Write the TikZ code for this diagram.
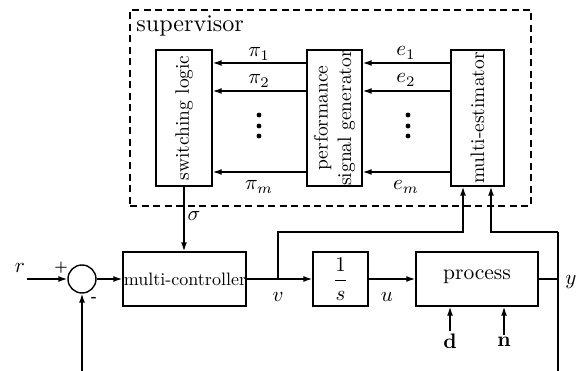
\documentclass[tikz,border=0pt]{standalone}
\usepackage{graphicx}
\usetikzlibrary{arrows.meta}
\begin{document}
\begin{tikzpicture}[x=1pt,y=-1pt,
  box/.style={draw, line width=1.4pt, inner sep=0pt},
  conn/.style={line width=1.4pt},
  arr/.style={line width=1.4pt, -{Latex[length=9pt,width=6pt]}},
  lab/.style={font=\normalsize, inner sep=0pt, scale=2.1},
  small/.style={font=\normalsize, inner sep=0pt, scale=1.5},
  htext/.style={font=\normalsize, inner sep=0pt, scale=2.15},
  vtext/.style={rotate=90, font=\normalsize, inner sep=0pt, align=center, scale=1.95},
  dotn/.style={circle, fill, inner sep=0pt, minimum size=4.8pt},
  supbox/.style={draw, line width=1.1pt, dash pattern=on 7pt off 4.5pt, inner sep=0pt}]
\useasboundingbox (0,0) rectangle (577,371);

% supervisor
\node[supbox, minimum width=401pt, minimum height=196pt] (sup) at (330.5,108) {};
\node[htext, scale=1.12, anchor=base west] (suplab) at (136,32) {supervisor};

\node[box, minimum width=56pt, minimum height=136pt] (sw) at (184,118) {};
\node[vtext] (swt) at (sw) {switching logic};
\node[box, minimum width=55pt, minimum height=136pt] (psg) at (334.5,118) {};
\node[vtext] (psgt) at (psg) {performance\\signal generator};
\node[box, minimum width=53pt, minimum height=136pt] (me) at (477.5,118) {};
\node[vtext] (met) at (me) {multi-estimator};

\draw[arr] ([yshift=55pt]psg.west) -- ([yshift=55pt]sw.east);
\draw[arr] ([yshift=27pt]psg.west) -- ([yshift=27pt]sw.east);
\draw[arr] ([yshift=-54pt]psg.west) -- ([yshift=-54pt]sw.east);
\draw[arr] ([yshift=55pt]me.west) -- ([yshift=55pt]psg.east);
\draw[arr] ([yshift=27pt]me.west) -- ([yshift=27pt]psg.east);
\draw[arr] ([yshift=-54pt]me.west) -- ([yshift=-54pt]psg.east);
\node[lab] (pi1) at (259,54) {$\pi_1$};
\node[lab] (pi2) at (259,81) {$\pi_2$};
\node[lab] (pim) at (259,187) {$\pi_m$};
\node[lab] (e1) at (406,53) {$e_1$};
\node[lab] (e2) at (406,80) {$e_2$};
\node[lab] (em) at (406,187) {$e_m$};

\node[dotn] (pd1) at (259,115) {};
\node[dotn] (pd2) at (259,126) {};
\node[dotn] (pd3) at (259,136) {};
\node[dotn] (ed1) at (408,115) {};
\node[dotn] (ed2) at (408,126) {};
\node[dotn] (ed3) at (408,136) {};

% loop
\node[draw, circle, line width=1.4pt, minimum size=28pt, inner sep=0pt] (sum) at (82,279) {};
\coordinate (rin) at (27,279);
\coordinate (fb) at (82,371);
\node[lab] (rl) at (20,268) {$r$};
\node[small] (plus) at (61,268) {\textbf{+}};
\node[small] (minus) at (94,299) {\textbf{-}};

\node[box, minimum width=123pt, minimum height=54pt] (mc) at (184.5,279) {};
\node[font=\normalsize, inner sep=0pt, scale=1.8] (mct) at (185,279) {multi-controller};
\node[box, minimum width=55pt, minimum height=54pt] (inv) at (340.5,279) {};
\node[lab] (invt) at (inv) {$\displaystyle\frac{1}{s}$};
\node[box, minimum width=122pt, minimum height=54pt] (proc) at (477,279) {};
\node[htext] (proct) at (477,277) {process};

\draw[arr] (rin) -- (sum.west);
\draw[arr] (fb) -- (sum.south);
\draw[arr] (sum.east) -- (mc.west);
\draw[arr] (sw.south) -- (sw.south |- mc.north);
\node[lab] (sigl) at (194,216) {$\sigma$};

\coordinate (vj) at (278,279);
\coordinate (vt) at (278,232);
\draw[conn] (mc.east) -- (vj);
\draw[arr] (vj) -- (inv.west);
\draw[arr] (vj) -- (vt) -| ([xshift=-14.5pt]me.south);
\node[lab] (vl) at (278,297) {$v$};

\draw[arr] (inv.east) -- (proc.west);
\node[lab] (ul) at (387,297) {$u$};

\coordinate (yj) at (558,279);
\coordinate (yt) at (558,232);
\coordinate (yb) at (558,371);
\draw[conn] (proc.east) -- (yj);
\draw[conn] (yb) -- (yt);
\draw[arr] (yt) -| ([xshift=13.5pt]me.south);
\node[lab] (yl) at (571,282) {$y$};

\node[lab] (dl) at (450,341) {$\mathbf{d}$};
\node[lab] (nl) at (504,342) {$\mathbf{n}$};
\draw[arr] ([yshift=2pt]dl.north) -- (dl.north |- proc.south);
\draw[arr] ([yshift=2pt]nl.north) -- (nl.north |- proc.south);
\end{tikzpicture}
\end{document}
